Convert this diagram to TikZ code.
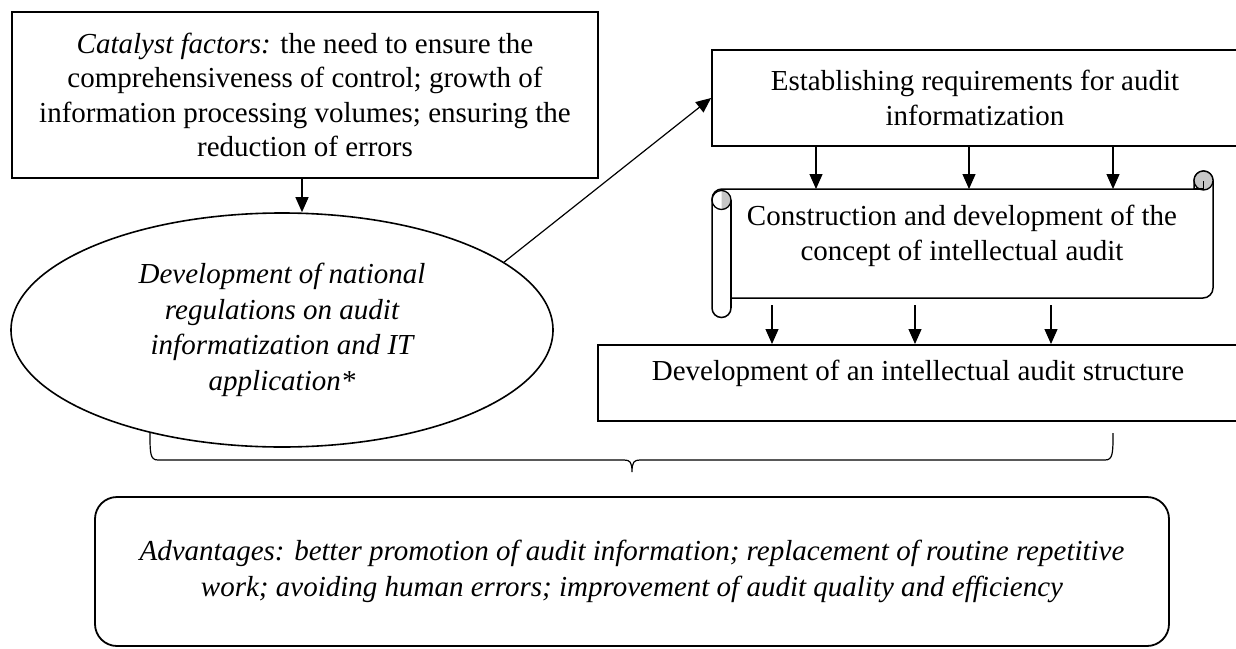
\documentclass[tikz,border=0pt]{standalone}
\usepackage{fontspec}
\setmainfont{Liberation Serif}
\usetikzlibrary{positioning,shapes.geometric,arrows.meta}

\begin{document}
\begin{tikzpicture}[
	x=1pt, y=-1pt
	,every node/.append style={font=\fontsize{29}{34.5}\selectfont, inner sep=0pt}
	,itxt/.style={font=\fontsize{29}{35.5}\selectfont\itshape}
	,box/.style={rectangle, draw, line width=1.8pt, align=center}
	,oval/.style={ellipse, draw, line width=1.6pt, align=center}
	,arr/.style={-{Triangle[length=15pt,width=13pt]}, line width=1.2pt}
	,curl/.style={fill=black!22, line width=1.3pt}
]
	\useasboundingbox (0,0) rectangle (1236,648);

	\node [box, minimum width=586pt, minimum height=166pt] (cat) at (305,95) {\textit{Catalyst factors:} the need to ensure the\\comprehensiveness of control; growth of\\information processing volumes; ensuring the\\reduction of errors};
	\node [oval, itxt, minimum width=542pt, minimum height=234pt] (reg) at (282,330) {Development of national\\regulations on audit\\informatization and IT\\application*};
	\node [box, minimum width=526pt, minimum height=96pt] (req) at (975,98) {Establishing requirements for audit\\informatization};

	\coordinate (conT) at (962,189);
	\coordinate (conB) at (962,305);
	\node [align=center] (con) at (962,236) {Construction and development of the\\concept of intellectual audit};
	\draw [line width=1.5pt] (731,308) arc (0:-180:9.5pt) -- (712,199) arc (180:90:10pt) -- (1194,189) -- (1194,180.5) arc (180:0:9.5pt) -- (1213,288) arc (0:-90:10pt) -- (731,298);
	\draw [line width=1.3pt] (731,308) -- (731,200);
	\fill [curl] (721.5,190.5) arc (90:-90:9.5pt) -- cycle;
	\draw [line width=1.3pt] (721.5,200) circle (9.5pt);
	\filldraw [curl] (1203.5,180.5) circle (9.5pt);
	\draw [line width=1.3pt] (1194,189) -- (1203.5,189) -- (1203.5,180.5);

	\node [box, anchor=north, minimum width=640pt, text height=36pt, text depth=40pt] (str) at (918,344) {Development of an intellectual audit structure};
	\node [box, itxt, rounded corners=22pt, minimum width=1074pt, minimum height=149pt] (adv) at (632,571.5) {Advantages: better promotion of audit information; replacement of routine repetitive\\work; avoiding human errors; improvement of audit quality and efficiency};

	\draw [arr] (cat.south -| 302,0) -- (reg.north -| 302,0);
	\draw [arr] (reg.17) -- (req.west);
	\foreach \x in {816,969,1113}
		\draw [arr] (req.south -| \x,0) -- (conT -| \x,0);
	\foreach \x in {772,915,1051}
		\draw [arr] (conB -| \x,0) -- (str.north -| \x,0);

	\draw [line width=1.2pt] (150,433) .. controls (150,453) and (150,460) .. (158,460) -- (624,460) .. controls (630,460) and (632,462) .. (632,472) .. controls (632,462) and (634,460) .. (640,460) -- (1105,460) .. controls (1113,460) and (1113,453) .. (1113,433);
\end{tikzpicture}
\end{document}
